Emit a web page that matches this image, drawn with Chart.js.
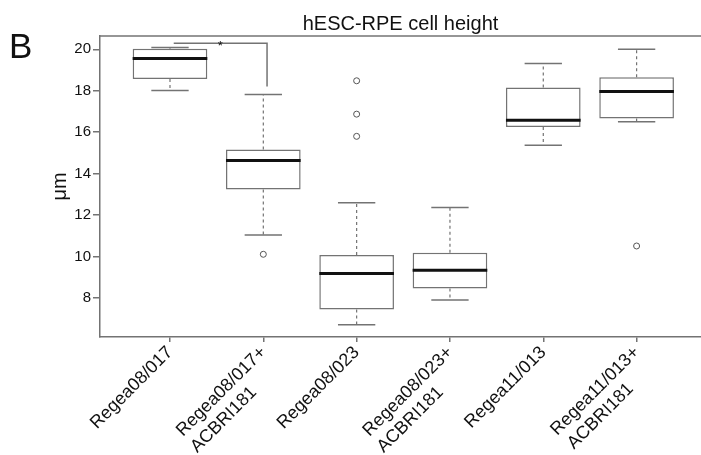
<!DOCTYPE html>
<html>
<head>
<meta charset="utf-8">
<script src="https://cdn.jsdelivr.net/npm/chart.js@4.4.0/dist/chart.umd.min.js"></script>
<style>
html, body { margin: 0; padding: 0; background: #fff; overflow: hidden; }
#wrap { width: 701px; height: 455px; }
</style>
</head>
<body>
<div id="wrap"><canvas id="cellHeight"></canvas></div>
<script>
// groups and box statistics (um)
const groups = [
    ['Regea08/017'],
    ['Regea08/017+', 'ACBRI181'],
    ['Regea08/023'],
    ['Regea08/023+', 'ACBRI181'],
    ['Regea11/013'],
    ['Regea11/013+', 'ACBRI181']
];
const positions = [1, 2, 3, 4, 5, 6];
const lowerWhisker = [18.01, 11.04, 6.71, 7.91, 15.37, 16.50];
const q1 = [18.57, 13.24, 7.45, 8.46, 16.25, 16.66];
const median = [19.55, 14.64, 9.18, 9.34, 16.57, 17.96];
const q3 = [20.02, 15.17, 10.08, 10.19, 18.15, 18.65];
const upperWhisker = [20.08, 17.82, 12.60, 12.37, 19.31, 20.00];
const outliers = [[], [10.11], [18.48, 16.87, 15.80], [], [], [10.51]];
const yTicks = [8, 10, 12, 14, 16, 18, 20];
// significance bracket between group 1 and 2
const bracketX = [1.04, 2.04, 2.04];
const bracketY = [20.29, 20.29, 18.2];

const FONT = '"Liberation Sans", Arial, sans-serif';
const GREY = '#737373';
const W = 701, H = 455;

// helper: list of segments separated by gaps
function segments(list) {
    const out = [];
    list.forEach(s => {
        out.push({x: s[0], y: s[1]}, {x: s[2], y: s[3]}, {x: s[2], y: null});
    });
    return out;
}

const medianSegs = segments(positions.map((p, i) => [p - 0.4, median[i], p + 0.4, median[i]]));
const capSegs = segments(positions.map((p, i) => [p - 0.2, upperWhisker[i], p + 0.2, upperWhisker[i]])
    .concat(positions.map((p, i) => [p - 0.2, lowerWhisker[i], p + 0.2, lowerWhisker[i]])));
const stemSegs = segments(positions.map((p, i) => [p, q3[i], p, upperWhisker[i]])
    .concat(positions.map((p, i) => [p, q1[i], p, lowerWhisker[i]])));
const outlierPts = [];
outliers.forEach((vals, i) => vals.forEach(v => outlierPts.push({x: positions[i], y: v})));

// pad the second label line so lines stay left aligned inside the rotated block
const LABEL_SIZE = 18;
const measure = document.createElement('canvas').getContext('2d');
measure.font = LABEL_SIZE + 'px ' + FONT;
function labelFor(i) {
    const lines = groups[i];
    if (lines.length < 2) return lines[0];
    const gap = measure.measureText(lines[0]).width - measure.measureText(lines[1]).width;
    const n = Math.max(0, Math.round(gap / measure.measureText(' ').width));
    return [lines[0], lines[1] + ' '.repeat(n)];
}

const extras = {
    id: 'extras',
    afterDraw(chart) {
        const c = chart.ctx, a = chart.chartArea;
        const xs = chart.scales.x, ys = chart.scales.y;
        c.save();
        c.strokeStyle = GREY;
        c.lineWidth = 1.5;
        c.beginPath();
        c.moveTo(a.left, a.top);
        c.lineTo(a.right, a.top);
        c.stroke();
        c.fillStyle = '#111';
        c.font = '35px ' + FONT;
        c.textBaseline = 'alphabetic';
        c.fillText('B', 9, 58);
        c.font = '13px ' + FONT;
        c.textAlign = 'center';
        c.fillText('*', xs.getPixelForValue((bracketX[0] + bracketX[1]) / 2), ys.getPixelForValue(bracketY[0]) + 7);
        c.restore();
    }
};

const ctx = document.getElementById('cellHeight').getContext('2d');
const chart = new Chart(ctx, {
    type: 'bar',
    data: {
        datasets: [{
            type: 'line',
            data: medianSegs,
            borderColor: '#111',
            borderWidth: 3,
            pointRadius: 0,
            spanGaps: false
        }, {
            type: 'scatter',
            data: outlierPts,
            pointRadius: 3,
            pointBackgroundColor: '#fff',
            pointBorderColor: '#555',
            pointBorderWidth: 1
        }, {
            type: 'line',
            data: bracketX.map((x, i) => ({x: x, y: bracketY[i]})),
            borderColor: GREY,
            borderWidth: 1.5,
            pointRadius: 0
        }, {
            type: 'line',
            data: capSegs,
            borderColor: GREY,
            borderWidth: 1.5,
            pointRadius: 0,
            spanGaps: false
        }, {
            type: 'line',
            data: stemSegs,
            borderColor: GREY,
            borderWidth: 1.2,
            borderDash: [3, 3],
            pointRadius: 0,
            spanGaps: false
        }, {
            type: 'bar',
            data: positions.map((p, i) => ({x: p, y: [q1[i], q3[i]]})),
            backgroundColor: '#fff',
            borderColor: GREY,
            borderWidth: 1.5,
            borderSkipped: false,
            barPercentage: 0.8,
            categoryPercentage: 1
        }]
    },
    options: {
        responsive: true,
        maintainAspectRatio: false,
        animation: false,
        layout: {padding: 0},
        scales: {
            x: {
                type: 'linear',
                min: 0.25,
                max: 6.69,
                offset: false,
                afterBuildTicks: s => { s.ticks = positions.map(v => ({value: v})); },
                afterFit: s => { s.height = 118; s.paddingLeft = 0; s.paddingRight = 0; },
                border: {color: GREY, width: 1.5},
                grid: {display: true, offset: false, drawOnChartArea: false, drawTicks: true, tickLength: 5, color: GREY, lineWidth: 1.5},
                ticks: {
                    autoSkip: false,
                    minRotation: 45,
                    maxRotation: 45,
                    padding: 0,
                    color: '#111',
                    font: {family: FONT, size: LABEL_SIZE},
                    callback: v => labelFor(positions.indexOf(v))
                }
            },
            y: {
                min: 6.12,
                max: 20.64,
                afterBuildTicks: s => { s.ticks = yTicks.map(v => ({value: v})); },
                afterFit: s => { s.width = 100; s.paddingTop = 0; s.paddingBottom = 0; },
                border: {color: GREY, width: 1.5},
                grid: {display: true, drawOnChartArea: false, drawTicks: true, tickLength: 7, color: GREY, lineWidth: 1.5},
                ticks: {
                    padding: 2,
                    color: '#111',
                    font: {family: FONT, size: 15}
                },
                title: {
                    display: true,
                    text: 'μm',
                    color: '#111',
                    font: {family: FONT, size: 20},
                    padding: {top: 48, bottom: 0}
                }
            }
        },
        plugins: {
            legend: {display: false},
            tooltip: {enabled: false},
            title: {
                display: true,
                fullSize: false,
                text: 'hESC-RPE cell height',
                color: '#111',
                font: {family: FONT, size: 20, weight: 'normal'},
                padding: {top: 12, bottom: 0}
            }
        }
    },
    plugins: [extras]
});

// the plot frame runs off the right edge in the original, so widen the canvas
// by whatever right padding the layout kept
const extra = W - chart.chartArea.right;
if (extra > 0) {
    document.getElementById('wrap').style.width = (W + extra) + 'px';
    chart.resize(W + extra, H);
}
</script>
</body>
</html>
